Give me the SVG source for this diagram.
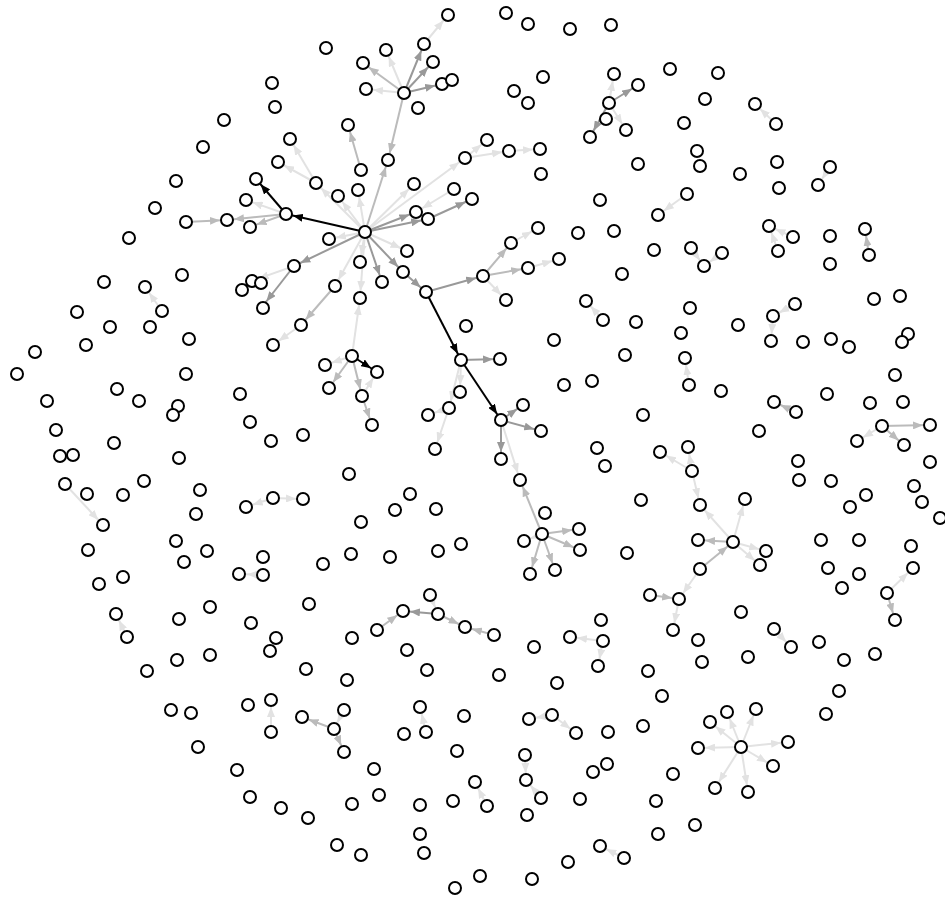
<svg xmlns="http://www.w3.org/2000/svg" width="945" height="899" viewBox="0 0 945 899">
<style>
circle{fill:#fff;stroke:#000;stroke-width:2}
line{stroke-width:2;fill:none}
.e0{stroke:#000;marker-end:url(#a0)}
.e1{stroke:#999;marker-end:url(#a1)}
.e2{stroke:#bbb;marker-end:url(#a2)}
.e3{stroke:#e2e2e2;marker-end:url(#a3)}
</style>
<defs>
<marker id="a0" viewBox="0 0 10 8" refX="17" refY="4" markerWidth="10" markerHeight="8" markerUnits="userSpaceOnUse" orient="auto"><path d="M0,0L10,4L0,8z" fill="#000"/></marker>
<marker id="a1" viewBox="0 0 10 8" refX="17" refY="4" markerWidth="10" markerHeight="8" markerUnits="userSpaceOnUse" orient="auto"><path d="M0,0L10,4L0,8z" fill="#999"/></marker>
<marker id="a2" viewBox="0 0 10 8" refX="17" refY="4" markerWidth="10" markerHeight="8" markerUnits="userSpaceOnUse" orient="auto"><path d="M0,0L10,4L0,8z" fill="#bbb"/></marker>
<marker id="a3" viewBox="0 0 10 8" refX="17" refY="4" markerWidth="10" markerHeight="8" markerUnits="userSpaceOnUse" orient="auto"><path d="M0,0L10,4L0,8z" fill="#e2e2e2"/></marker>
</defs>
<rect width="945" height="899" fill="#fff"/>
<g id="edges">
<line class="e0" x1="365" y1="232" x2="286" y2="214"/>
<line class="e0" x1="286" y1="214" x2="256" y2="179"/>
<line class="e2" x1="286" y1="214" x2="227" y2="220"/>
<line class="e3" x1="286" y1="214" x2="246" y2="200"/>
<line class="e2" x1="286" y1="214" x2="250" y2="227"/>
<line class="e2" x1="186" y1="222" x2="227" y2="220"/>
<line class="e2" x1="361" y1="170" x2="348" y2="125"/>
<line class="e3" x1="365" y1="232" x2="358" y2="190"/>
<line class="e2" x1="365" y1="232" x2="388" y2="160"/>
<line class="e2" x1="404" y1="93" x2="388" y2="160"/>
<line class="e3" x1="365" y1="232" x2="316" y2="183"/>
<line class="e3" x1="316" y1="183" x2="290" y2="139"/>
<line class="e3" x1="316" y1="183" x2="278" y2="162"/>
<line class="e3" x1="365" y1="232" x2="338" y2="196"/>
<line class="e3" x1="365" y1="232" x2="414" y2="184"/>
<line class="e3" x1="365" y1="232" x2="465" y2="158"/>
<line class="e1" x1="365" y1="232" x2="416" y2="212"/>
<line class="e1" x1="365" y1="232" x2="428" y2="219"/>
<line class="e1" x1="428" y1="219" x2="472" y2="199"/>
<line class="e3" x1="454" y1="189" x2="416" y2="212"/>
<line class="e3" x1="365" y1="232" x2="407" y2="251"/>
<line class="e1" x1="365" y1="232" x2="403" y2="272"/>
<line class="e1" x1="403" y1="272" x2="426" y2="292"/>
<line class="e1" x1="365" y1="232" x2="382" y2="282"/>
<line class="e3" x1="365" y1="232" x2="360" y2="262"/>
<line class="e3" x1="365" y1="232" x2="360" y2="298"/>
<line class="e3" x1="365" y1="232" x2="335" y2="286"/>
<line class="e3" x1="365" y1="232" x2="329" y2="239"/>
<line class="e1" x1="365" y1="232" x2="294" y2="266"/>
<line class="e3" x1="294" y1="266" x2="252" y2="281"/>
<line class="e1" x1="294" y1="266" x2="262" y2="307"/>
<line class="e2" x1="335" y1="286" x2="301" y2="325"/>
<line class="e3" x1="301" y1="325" x2="273" y2="345"/>
<line class="e2" x1="404" y1="93" x2="363" y2="63"/>
<line class="e3" x1="404" y1="93" x2="386" y2="50"/>
<line class="e1" x1="404" y1="93" x2="424" y2="44"/>
<line class="e1" x1="404" y1="93" x2="433" y2="62"/>
<line class="e1" x1="404" y1="93" x2="442" y2="84"/>
<line class="e3" x1="404" y1="93" x2="366" y2="89"/>
<line class="e3" x1="424" y1="44" x2="448" y2="15"/>
<line class="e0" x1="426" y1="292" x2="461" y2="360"/>
<line class="e0" x1="461" y1="360" x2="501" y2="420"/>
<line class="e1" x1="426" y1="292" x2="483" y2="276"/>
<line class="e2" x1="483" y1="276" x2="511" y2="243"/>
<line class="e3" x1="511" y1="243" x2="538" y2="228"/>
<line class="e2" x1="483" y1="276" x2="528" y2="268"/>
<line class="e3" x1="528" y1="268" x2="559" y2="259"/>
<line class="e3" x1="483" y1="276" x2="506" y2="300"/>
<line class="e1" x1="461" y1="360" x2="500" y2="359"/>
<line class="e3" x1="461" y1="360" x2="460" y2="392"/>
<line class="e3" x1="461" y1="360" x2="449" y2="408"/>
<line class="e3" x1="449" y1="408" x2="435" y2="449"/>
<line class="e3" x1="449" y1="408" x2="428" y2="415"/>
<line class="e1" x1="501" y1="420" x2="523" y2="405"/>
<line class="e1" x1="501" y1="420" x2="541" y2="431"/>
<line class="e1" x1="501" y1="420" x2="501" y2="459"/>
<line class="e3" x1="501" y1="420" x2="520" y2="480"/>
<line class="e2" x1="542" y1="534" x2="520" y2="480"/>
<line class="e2" x1="542" y1="534" x2="579" y2="529"/>
<line class="e2" x1="542" y1="534" x2="580" y2="550"/>
<line class="e2" x1="542" y1="534" x2="530" y2="574"/>
<line class="e2" x1="542" y1="534" x2="555" y2="570"/>
<line class="e3" x1="542" y1="534" x2="524" y2="541"/>
<line class="e3" x1="352" y1="356" x2="360" y2="298"/>
<line class="e0" x1="352" y1="356" x2="377" y2="372"/>
<line class="e3" x1="352" y1="356" x2="325" y2="365"/>
<line class="e2" x1="352" y1="356" x2="329" y2="388"/>
<line class="e2" x1="352" y1="356" x2="362" y2="396"/>
<line class="e2" x1="362" y1="396" x2="372" y2="425"/>
<line class="e3" x1="362" y1="396" x2="377" y2="372"/>
<line class="e3" x1="465" y1="158" x2="509" y2="151"/>
<line class="e3" x1="509" y1="151" x2="540" y2="149"/>
<line class="e3" x1="465" y1="158" x2="487" y2="140"/>
<line class="e3" x1="609" y1="103" x2="614" y2="74"/>
<line class="e1" x1="609" y1="103" x2="638" y2="85"/>
<line class="e1" x1="609" y1="103" x2="590" y2="137"/>
<line class="e3" x1="609" y1="103" x2="626" y2="130"/>
<line class="e3" x1="687" y1="194" x2="658" y2="215"/>
<line class="e3" x1="691" y1="248" x2="704" y2="266"/>
<line class="e3" x1="722" y1="253" x2="704" y2="266"/>
<line class="e3" x1="776" y1="124" x2="755" y2="104"/>
<line class="e3" x1="830" y1="167" x2="818" y2="185"/>
<line class="e3" x1="793" y1="237" x2="769" y2="226"/>
<line class="e3" x1="778" y1="251" x2="769" y2="226"/>
<line class="e2" x1="869" y1="255" x2="865" y2="229"/>
<line class="e3" x1="162" y1="311" x2="145" y2="287"/>
<line class="e3" x1="65" y1="484" x2="103" y2="525"/>
<line class="e3" x1="603" y1="320" x2="586" y2="301"/>
<line class="e3" x1="689" y1="385" x2="685" y2="358"/>
<line class="e3" x1="692" y1="471" x2="688" y2="447"/>
<line class="e3" x1="692" y1="471" x2="660" y2="452"/>
<line class="e3" x1="692" y1="471" x2="700" y2="505"/>
<line class="e3" x1="700" y1="569" x2="679" y2="599"/>
<line class="e2" x1="650" y1="595" x2="679" y2="599"/>
<line class="e3" x1="679" y1="599" x2="673" y2="630"/>
<line class="e3" x1="795" y1="304" x2="773" y2="316"/>
<line class="e3" x1="773" y1="316" x2="771" y2="341"/>
<line class="e2" x1="796" y1="412" x2="774" y2="402"/>
<line class="e2" x1="882" y1="426" x2="930" y2="425"/>
<line class="e2" x1="882" y1="426" x2="904" y2="445"/>
<line class="e3" x1="882" y1="426" x2="857" y2="441"/>
<line class="e3" x1="733" y1="542" x2="745" y2="499"/>
<line class="e2" x1="733" y1="542" x2="698" y2="540"/>
<line class="e2" x1="700" y1="569" x2="733" y2="542"/>
<line class="e3" x1="733" y1="542" x2="766" y2="551"/>
<line class="e3" x1="733" y1="542" x2="760" y2="565"/>
<line class="e3" x1="733" y1="542" x2="700" y2="505"/>
<line class="e3" x1="887" y1="593" x2="913" y2="568"/>
<line class="e2" x1="887" y1="593" x2="895" y2="620"/>
<line class="e3" x1="273" y1="498" x2="246" y2="507"/>
<line class="e3" x1="273" y1="498" x2="303" y2="499"/>
<line class="e3" x1="263" y1="575" x2="240" y2="574"/>
<line class="e3" x1="127" y1="637" x2="116" y2="614"/>
<line class="e2" x1="377" y1="630" x2="403" y2="611"/>
<line class="e1" x1="438" y1="614" x2="403" y2="611"/>
<line class="e2" x1="438" y1="614" x2="465" y2="627"/>
<line class="e3" x1="430" y1="595" x2="438" y2="614"/>
<line class="e2" x1="494" y1="635" x2="465" y2="627"/>
<line class="e3" x1="271" y1="732" x2="271" y2="700"/>
<line class="e2" x1="334" y1="729" x2="302" y2="717"/>
<line class="e2" x1="334" y1="729" x2="344" y2="752"/>
<line class="e3" x1="344" y1="710" x2="334" y2="729"/>
<line class="e3" x1="426" y1="732" x2="420" y2="707"/>
<line class="e3" x1="603" y1="641" x2="570" y2="637"/>
<line class="e3" x1="603" y1="641" x2="598" y2="666"/>
<line class="e3" x1="552" y1="715" x2="529" y2="719"/>
<line class="e3" x1="552" y1="715" x2="576" y2="733"/>
<line class="e3" x1="525" y1="755" x2="526" y2="780"/>
<line class="e3" x1="541" y1="798" x2="526" y2="780"/>
<line class="e3" x1="487" y1="806" x2="475" y2="782"/>
<line class="e3" x1="624" y1="858" x2="600" y2="846"/>
<line class="e3" x1="774" y1="629" x2="791" y2="647"/>
<line class="e3" x1="741" y1="747" x2="727" y2="712"/>
<line class="e3" x1="741" y1="747" x2="756" y2="709"/>
<line class="e3" x1="741" y1="747" x2="710" y2="722"/>
<line class="e3" x1="741" y1="747" x2="698" y2="748"/>
<line class="e3" x1="741" y1="747" x2="788" y2="742"/>
<line class="e3" x1="741" y1="747" x2="773" y2="766"/>
<line class="e3" x1="741" y1="747" x2="715" y2="788"/>
<line class="e3" x1="741" y1="747" x2="748" y2="792"/>
</g>
<g id="nodes">
<g id="n1"><circle cx="224" cy="120" r="6"/></g>
<g id="n2"><circle cx="203" cy="147" r="6"/></g>
<g id="n3"><circle cx="176" cy="181" r="6"/></g>
<g id="n4"><circle cx="155" cy="208" r="6"/></g>
<g id="n5"><circle cx="186" cy="222" r="6"/></g>
<g id="n6"><circle cx="227" cy="220" r="6"/></g>
<g id="n7"><circle cx="129" cy="238" r="6"/></g>
<g id="n8"><circle cx="104" cy="282" r="6"/></g>
<g id="n9"><circle cx="145" cy="287" r="6"/></g>
<g id="n10"><circle cx="182" cy="275" r="6"/></g>
<g id="n11"><circle cx="242" cy="290" r="6"/></g>
<g id="n12"><circle cx="246" cy="200" r="6"/></g>
<g id="n13"><circle cx="448" cy="15" r="6"/></g>
<g id="n14"><circle cx="326" cy="48" r="6"/></g>
<g id="n15"><circle cx="386" cy="50" r="6"/></g>
<g id="n16"><circle cx="424" cy="44" r="6"/></g>
<g id="n17"><circle cx="363" cy="63" r="6"/></g>
<g id="n18"><circle cx="433" cy="62" r="6"/></g>
<g id="n19"><circle cx="442" cy="84" r="6"/></g>
<g id="n20"><circle cx="452" cy="80" r="6"/></g>
<g id="n21"><circle cx="366" cy="89" r="6"/></g>
<g id="n22"><circle cx="404" cy="93" r="6"/></g>
<g id="n23"><circle cx="418" cy="108" r="6"/></g>
<g id="n24"><circle cx="272" cy="83" r="6"/></g>
<g id="n25"><circle cx="275" cy="107" r="6"/></g>
<g id="n26"><circle cx="348" cy="125" r="6"/></g>
<g id="n27"><circle cx="290" cy="139" r="6"/></g>
<g id="n28"><circle cx="388" cy="160" r="6"/></g>
<g id="n29"><circle cx="278" cy="162" r="6"/></g>
<g id="n30"><circle cx="465" cy="158" r="6"/></g>
<g id="n31"><circle cx="361" cy="170" r="6"/></g>
<g id="n32"><circle cx="256" cy="179" r="6"/></g>
<g id="n33"><circle cx="316" cy="183" r="6"/></g>
<g id="n34"><circle cx="414" cy="184" r="6"/></g>
<g id="n35"><circle cx="358" cy="190" r="6"/></g>
<g id="n36"><circle cx="338" cy="196" r="6"/></g>
<g id="n37"><circle cx="454" cy="189" r="6"/></g>
<g id="n38"><circle cx="472" cy="199" r="6"/></g>
<g id="n39"><circle cx="286" cy="214" r="6"/></g>
<g id="n40"><circle cx="416" cy="212" r="6"/></g>
<g id="n41"><circle cx="428" cy="219" r="6"/></g>
<g id="n42"><circle cx="250" cy="227" r="6"/></g>
<g id="n43"><circle cx="365" cy="232" r="6"/></g>
<g id="n44"><circle cx="329" cy="239" r="6"/></g>
<g id="n45"><circle cx="407" cy="251" r="6"/></g>
<g id="n46"><circle cx="294" cy="266" r="6"/></g>
<g id="n47"><circle cx="360" cy="262" r="6"/></g>
<g id="n48"><circle cx="403" cy="272" r="6"/></g>
<g id="n49"><circle cx="382" cy="282" r="6"/></g>
<g id="n50"><circle cx="252" cy="281" r="6"/></g>
<g id="n51"><circle cx="261" cy="283" r="6"/></g>
<g id="n52"><circle cx="335" cy="286" r="6"/></g>
<g id="n53"><circle cx="360" cy="298" r="6"/></g>
<g id="n54"><circle cx="426" cy="292" r="6"/></g>
<g id="n55"><circle cx="506" cy="13" r="6"/></g>
<g id="n56"><circle cx="528" cy="24" r="6"/></g>
<g id="n57"><circle cx="570" cy="29" r="6"/></g>
<g id="n58"><circle cx="611" cy="25" r="6"/></g>
<g id="n59"><circle cx="543" cy="77" r="6"/></g>
<g id="n60"><circle cx="614" cy="74" r="6"/></g>
<g id="n61"><circle cx="638" cy="85" r="6"/></g>
<g id="n62"><circle cx="670" cy="69" r="6"/></g>
<g id="n63"><circle cx="705" cy="99" r="6"/></g>
<g id="n64"><circle cx="514" cy="91" r="6"/></g>
<g id="n65"><circle cx="528" cy="103" r="6"/></g>
<g id="n66"><circle cx="609" cy="103" r="6"/></g>
<g id="n67"><circle cx="606" cy="119" r="6"/></g>
<g id="n68"><circle cx="626" cy="130" r="6"/></g>
<g id="n69"><circle cx="590" cy="137" r="6"/></g>
<g id="n70"><circle cx="684" cy="123" r="6"/></g>
<g id="n71"><circle cx="697" cy="151" r="6"/></g>
<g id="n72"><circle cx="700" cy="166" r="6"/></g>
<g id="n73"><circle cx="487" cy="140" r="6"/></g>
<g id="n74"><circle cx="509" cy="151" r="6"/></g>
<g id="n75"><circle cx="540" cy="149" r="6"/></g>
<g id="n76"><circle cx="541" cy="174" r="6"/></g>
<g id="n77"><circle cx="638" cy="164" r="6"/></g>
<g id="n78"><circle cx="600" cy="200" r="6"/></g>
<g id="n79"><circle cx="687" cy="194" r="6"/></g>
<g id="n80"><circle cx="658" cy="215" r="6"/></g>
<g id="n81"><circle cx="538" cy="228" r="6"/></g>
<g id="n82"><circle cx="578" cy="233" r="6"/></g>
<g id="n83"><circle cx="614" cy="231" r="6"/></g>
<g id="n84"><circle cx="511" cy="243" r="6"/></g>
<g id="n85"><circle cx="654" cy="250" r="6"/></g>
<g id="n86"><circle cx="691" cy="248" r="6"/></g>
<g id="n87"><circle cx="704" cy="266" r="6"/></g>
<g id="n88"><circle cx="559" cy="259" r="6"/></g>
<g id="n89"><circle cx="528" cy="268" r="6"/></g>
<g id="n90"><circle cx="622" cy="274" r="6"/></g>
<g id="n91"><circle cx="483" cy="276" r="6"/></g>
<g id="n92"><circle cx="506" cy="300" r="6"/></g>
<g id="n93"><circle cx="586" cy="301" r="6"/></g>
<g id="n94"><circle cx="718" cy="73" r="6"/></g>
<g id="n95"><circle cx="755" cy="104" r="6"/></g>
<g id="n96"><circle cx="776" cy="124" r="6"/></g>
<g id="n97"><circle cx="777" cy="162" r="6"/></g>
<g id="n98"><circle cx="740" cy="174" r="6"/></g>
<g id="n99"><circle cx="779" cy="188" r="6"/></g>
<g id="n100"><circle cx="830" cy="167" r="6"/></g>
<g id="n101"><circle cx="818" cy="185" r="6"/></g>
<g id="n102"><circle cx="769" cy="226" r="6"/></g>
<g id="n103"><circle cx="793" cy="237" r="6"/></g>
<g id="n104"><circle cx="778" cy="251" r="6"/></g>
<g id="n105"><circle cx="830" cy="236" r="6"/></g>
<g id="n106"><circle cx="830" cy="264" r="6"/></g>
<g id="n107"><circle cx="865" cy="229" r="6"/></g>
<g id="n108"><circle cx="869" cy="255" r="6"/></g>
<g id="n109"><circle cx="722" cy="253" r="6"/></g>
<g id="n110"><circle cx="874" cy="299" r="6"/></g>
<g id="n111"><circle cx="900" cy="296" r="6"/></g>
<g id="n112"><circle cx="162" cy="311" r="6"/></g>
<g id="n113"><circle cx="77" cy="312" r="6"/></g>
<g id="n114"><circle cx="110" cy="327" r="6"/></g>
<g id="n115"><circle cx="150" cy="327" r="6"/></g>
<g id="n116"><circle cx="86" cy="345" r="6"/></g>
<g id="n117"><circle cx="189" cy="339" r="6"/></g>
<g id="n118"><circle cx="35" cy="352" r="6"/></g>
<g id="n119"><circle cx="17" cy="374" r="6"/></g>
<g id="n120"><circle cx="186" cy="374" r="6"/></g>
<g id="n121"><circle cx="47" cy="401" r="6"/></g>
<g id="n122"><circle cx="117" cy="389" r="6"/></g>
<g id="n123"><circle cx="139" cy="401" r="6"/></g>
<g id="n124"><circle cx="178" cy="406" r="6"/></g>
<g id="n125"><circle cx="173" cy="415" r="6"/></g>
<g id="n126"><circle cx="56" cy="430" r="6"/></g>
<g id="n127"><circle cx="114" cy="443" r="6"/></g>
<g id="n128"><circle cx="60" cy="456" r="6"/></g>
<g id="n129"><circle cx="73" cy="455" r="6"/></g>
<g id="n130"><circle cx="179" cy="458" r="6"/></g>
<g id="n131"><circle cx="65" cy="484" r="6"/></g>
<g id="n132"><circle cx="87" cy="494" r="6"/></g>
<g id="n133"><circle cx="123" cy="495" r="6"/></g>
<g id="n134"><circle cx="144" cy="481" r="6"/></g>
<g id="n135"><circle cx="200" cy="490" r="6"/></g>
<g id="n136"><circle cx="196" cy="514" r="6"/></g>
<g id="n137"><circle cx="103" cy="525" r="6"/></g>
<g id="n138"><circle cx="176" cy="541" r="6"/></g>
<g id="n139"><circle cx="207" cy="551" r="6"/></g>
<g id="n140"><circle cx="184" cy="562" r="6"/></g>
<g id="n141"><circle cx="88" cy="550" r="6"/></g>
<g id="n142"><circle cx="99" cy="584" r="6"/></g>
<g id="n143"><circle cx="123" cy="577" r="6"/></g>
<g id="n144"><circle cx="240" cy="394" r="6"/></g>
<g id="n145"><circle cx="246" cy="507" r="6"/></g>
<g id="n146"><circle cx="239" cy="574" r="6"/></g>
<g id="n147"><circle cx="263" cy="308" r="6"/></g>
<g id="n148"><circle cx="301" cy="325" r="6"/></g>
<g id="n149"><circle cx="273" cy="345" r="6"/></g>
<g id="n151"><circle cx="352" cy="356" r="6"/></g>
<g id="n152"><circle cx="325" cy="365" r="6"/></g>
<g id="n153"><circle cx="377" cy="372" r="6"/></g>
<g id="n154"><circle cx="329" cy="388" r="6"/></g>
<g id="n155"><circle cx="362" cy="396" r="6"/></g>
<g id="n156"><circle cx="372" cy="425" r="6"/></g>
<g id="n157"><circle cx="250" cy="422" r="6"/></g>
<g id="n158"><circle cx="271" cy="441" r="6"/></g>
<g id="n159"><circle cx="303" cy="435" r="6"/></g>
<g id="n160"><circle cx="466" cy="326" r="6"/></g>
<g id="n161"><circle cx="461" cy="360" r="6"/></g>
<g id="n162"><circle cx="460" cy="392" r="6"/></g>
<g id="n163"><circle cx="449" cy="408" r="6"/></g>
<g id="n164"><circle cx="428" cy="415" r="6"/></g>
<g id="n165"><circle cx="435" cy="449" r="6"/></g>
<g id="n166"><circle cx="349" cy="474" r="6"/></g>
<g id="n167"><circle cx="273" cy="498" r="6"/></g>
<g id="n168"><circle cx="303" cy="499" r="6"/></g>
<g id="n169"><circle cx="410" cy="494" r="6"/></g>
<g id="n170"><circle cx="395" cy="510" r="6"/></g>
<g id="n171"><circle cx="436" cy="509" r="6"/></g>
<g id="n172"><circle cx="361" cy="522" r="6"/></g>
<g id="n173"><circle cx="461" cy="544" r="6"/></g>
<g id="n174"><circle cx="438" cy="551" r="6"/></g>
<g id="n175"><circle cx="390" cy="557" r="6"/></g>
<g id="n176"><circle cx="351" cy="554" r="6"/></g>
<g id="n177"><circle cx="323" cy="564" r="6"/></g>
<g id="n178"><circle cx="263" cy="557" r="6"/></g>
<g id="n179"><circle cx="263" cy="575" r="6"/></g>
<g id="n180"><circle cx="430" cy="595" r="6"/></g>
<g id="n181"><circle cx="309" cy="604" r="6"/></g>
<g id="n182"><circle cx="603" cy="320" r="6"/></g>
<g id="n183"><circle cx="636" cy="322" r="6"/></g>
<g id="n184"><circle cx="690" cy="308" r="6"/></g>
<g id="n185"><circle cx="681" cy="333" r="6"/></g>
<g id="n186"><circle cx="685" cy="358" r="6"/></g>
<g id="n187"><circle cx="689" cy="385" r="6"/></g>
<g id="n188"><circle cx="554" cy="340" r="6"/></g>
<g id="n189"><circle cx="500" cy="359" r="6"/></g>
<g id="n190"><circle cx="625" cy="355" r="6"/></g>
<g id="n191"><circle cx="564" cy="385" r="6"/></g>
<g id="n192"><circle cx="592" cy="381" r="6"/></g>
<g id="n193"><circle cx="523" cy="405" r="6"/></g>
<g id="n194"><circle cx="501" cy="420" r="6"/></g>
<g id="n195"><circle cx="541" cy="431" r="6"/></g>
<g id="n196"><circle cx="643" cy="415" r="6"/></g>
<g id="n197"><circle cx="501" cy="459" r="6"/></g>
<g id="n198"><circle cx="597" cy="448" r="6"/></g>
<g id="n199"><circle cx="605" cy="466" r="6"/></g>
<g id="n200"><circle cx="660" cy="452" r="6"/></g>
<g id="n201"><circle cx="688" cy="447" r="6"/></g>
<g id="n202"><circle cx="692" cy="471" r="6"/></g>
<g id="n203"><circle cx="520" cy="480" r="6"/></g>
<g id="n204"><circle cx="641" cy="500" r="6"/></g>
<g id="n205"><circle cx="700" cy="505" r="6"/></g>
<g id="n206"><circle cx="545" cy="513" r="6"/></g>
<g id="n207"><circle cx="542" cy="534" r="6"/></g>
<g id="n208"><circle cx="579" cy="529" r="6"/></g>
<g id="n209"><circle cx="524" cy="541" r="6"/></g>
<g id="n210"><circle cx="580" cy="550" r="6"/></g>
<g id="n211"><circle cx="627" cy="553" r="6"/></g>
<g id="n212"><circle cx="698" cy="540" r="6"/></g>
<g id="n213"><circle cx="530" cy="574" r="6"/></g>
<g id="n214"><circle cx="555" cy="570" r="6"/></g>
<g id="n215"><circle cx="700" cy="569" r="6"/></g>
<g id="n216"><circle cx="650" cy="595" r="6"/></g>
<g id="n217"><circle cx="679" cy="599" r="6"/></g>
<g id="n218"><circle cx="795" cy="304" r="6"/></g>
<g id="n219"><circle cx="773" cy="316" r="6"/></g>
<g id="n220"><circle cx="738" cy="325" r="6"/></g>
<g id="n221"><circle cx="771" cy="341" r="6"/></g>
<g id="n222"><circle cx="803" cy="342" r="6"/></g>
<g id="n223"><circle cx="831" cy="339" r="6"/></g>
<g id="n224"><circle cx="849" cy="347" r="6"/></g>
<g id="n225"><circle cx="908" cy="334" r="6"/></g>
<g id="n226"><circle cx="902" cy="342" r="6"/></g>
<g id="n227"><circle cx="895" cy="375" r="6"/></g>
<g id="n228"><circle cx="721" cy="391" r="6"/></g>
<g id="n229"><circle cx="827" cy="394" r="6"/></g>
<g id="n230"><circle cx="870" cy="403" r="6"/></g>
<g id="n231"><circle cx="903" cy="402" r="6"/></g>
<g id="n232"><circle cx="774" cy="402" r="6"/></g>
<g id="n233"><circle cx="796" cy="412" r="6"/></g>
<g id="n234"><circle cx="759" cy="431" r="6"/></g>
<g id="n235"><circle cx="882" cy="426" r="6"/></g>
<g id="n236"><circle cx="930" cy="425" r="6"/></g>
<g id="n237"><circle cx="857" cy="441" r="6"/></g>
<g id="n238"><circle cx="904" cy="445" r="6"/></g>
<g id="n239"><circle cx="798" cy="461" r="6"/></g>
<g id="n240"><circle cx="930" cy="462" r="6"/></g>
<g id="n241"><circle cx="799" cy="480" r="6"/></g>
<g id="n242"><circle cx="831" cy="481" r="6"/></g>
<g id="n243"><circle cx="914" cy="486" r="6"/></g>
<g id="n244"><circle cx="866" cy="495" r="6"/></g>
<g id="n245"><circle cx="850" cy="507" r="6"/></g>
<g id="n246"><circle cx="922" cy="502" r="6"/></g>
<g id="n247"><circle cx="940" cy="518" r="6"/></g>
<g id="n248"><circle cx="745" cy="499" r="6"/></g>
<g id="n249"><circle cx="733" cy="542" r="6"/></g>
<g id="n250"><circle cx="766" cy="551" r="6"/></g>
<g id="n251"><circle cx="760" cy="565" r="6"/></g>
<g id="n252"><circle cx="821" cy="540" r="6"/></g>
<g id="n253"><circle cx="859" cy="540" r="6"/></g>
<g id="n254"><circle cx="828" cy="568" r="6"/></g>
<g id="n255"><circle cx="859" cy="574" r="6"/></g>
<g id="n256"><circle cx="842" cy="588" r="6"/></g>
<g id="n257"><circle cx="887" cy="593" r="6"/></g>
<g id="n258"><circle cx="911" cy="546" r="6"/></g>
<g id="n259"><circle cx="913" cy="568" r="6"/></g>
<g id="n260"><circle cx="116" cy="614" r="6"/></g>
<g id="n261"><circle cx="127" cy="637" r="6"/></g>
<g id="n262"><circle cx="179" cy="619" r="6"/></g>
<g id="n263"><circle cx="210" cy="607" r="6"/></g>
<g id="n264"><circle cx="177" cy="660" r="6"/></g>
<g id="n265"><circle cx="210" cy="655" r="6"/></g>
<g id="n266"><circle cx="147" cy="671" r="6"/></g>
<g id="n267"><circle cx="171" cy="710" r="6"/></g>
<g id="n268"><circle cx="191" cy="713" r="6"/></g>
<g id="n269"><circle cx="198" cy="747" r="6"/></g>
<g id="n270"><circle cx="237" cy="770" r="6"/></g>
<g id="n271"><circle cx="251" cy="623" r="6"/></g>
<g id="n272"><circle cx="276" cy="638" r="6"/></g>
<g id="n273"><circle cx="270" cy="651" r="6"/></g>
<g id="n274"><circle cx="352" cy="638" r="6"/></g>
<g id="n275"><circle cx="377" cy="630" r="6"/></g>
<g id="n276"><circle cx="403" cy="611" r="6"/></g>
<g id="n277"><circle cx="438" cy="614" r="6"/></g>
<g id="n278"><circle cx="465" cy="627" r="6"/></g>
<g id="n279"><circle cx="407" cy="650" r="6"/></g>
<g id="n280"><circle cx="427" cy="670" r="6"/></g>
<g id="n281"><circle cx="306" cy="669" r="6"/></g>
<g id="n282"><circle cx="347" cy="680" r="6"/></g>
<g id="n283"><circle cx="248" cy="705" r="6"/></g>
<g id="n284"><circle cx="271" cy="700" r="6"/></g>
<g id="n285"><circle cx="271" cy="732" r="6"/></g>
<g id="n286"><circle cx="302" cy="717" r="6"/></g>
<g id="n287"><circle cx="344" cy="710" r="6"/></g>
<g id="n288"><circle cx="334" cy="729" r="6"/></g>
<g id="n289"><circle cx="344" cy="752" r="6"/></g>
<g id="n290"><circle cx="420" cy="707" r="6"/></g>
<g id="n291"><circle cx="404" cy="734" r="6"/></g>
<g id="n292"><circle cx="426" cy="732" r="6"/></g>
<g id="n293"><circle cx="464" cy="716" r="6"/></g>
<g id="n294"><circle cx="457" cy="751" r="6"/></g>
<g id="n295"><circle cx="374" cy="769" r="6"/></g>
<g id="n296"><circle cx="250" cy="797" r="6"/></g>
<g id="n297"><circle cx="281" cy="808" r="6"/></g>
<g id="n298"><circle cx="308" cy="818" r="6"/></g>
<g id="n299"><circle cx="352" cy="804" r="6"/></g>
<g id="n300"><circle cx="379" cy="795" r="6"/></g>
<g id="n301"><circle cx="420" cy="805" r="6"/></g>
<g id="n302"><circle cx="453" cy="801" r="6"/></g>
<g id="n303"><circle cx="420" cy="834" r="6"/></g>
<g id="n304"><circle cx="424" cy="853" r="6"/></g>
<g id="n305"><circle cx="337" cy="845" r="6"/></g>
<g id="n306"><circle cx="361" cy="855" r="6"/></g>
<g id="n307"><circle cx="455" cy="888" r="6"/></g>
<g id="n308"><circle cx="480" cy="876" r="6"/></g>
<g id="n309"><circle cx="673" cy="630" r="6"/></g>
<g id="n310"><circle cx="698" cy="640" r="6"/></g>
<g id="n311"><circle cx="702" cy="662" r="6"/></g>
<g id="n312"><circle cx="601" cy="620" r="6"/></g>
<g id="n313"><circle cx="603" cy="641" r="6"/></g>
<g id="n314"><circle cx="570" cy="637" r="6"/></g>
<g id="n315"><circle cx="598" cy="666" r="6"/></g>
<g id="n316"><circle cx="494" cy="635" r="6"/></g>
<g id="n317"><circle cx="534" cy="647" r="6"/></g>
<g id="n318"><circle cx="499" cy="675" r="6"/></g>
<g id="n319"><circle cx="557" cy="683" r="6"/></g>
<g id="n320"><circle cx="648" cy="671" r="6"/></g>
<g id="n321"><circle cx="662" cy="696" r="6"/></g>
<g id="n322"><circle cx="529" cy="719" r="6"/></g>
<g id="n323"><circle cx="552" cy="715" r="6"/></g>
<g id="n324"><circle cx="576" cy="733" r="6"/></g>
<g id="n325"><circle cx="608" cy="732" r="6"/></g>
<g id="n326"><circle cx="643" cy="726" r="6"/></g>
<g id="n327"><circle cx="698" cy="748" r="6"/></g>
<g id="n328"><circle cx="525" cy="755" r="6"/></g>
<g id="n329"><circle cx="526" cy="780" r="6"/></g>
<g id="n330"><circle cx="541" cy="798" r="6"/></g>
<g id="n331"><circle cx="475" cy="782" r="6"/></g>
<g id="n332"><circle cx="487" cy="806" r="6"/></g>
<g id="n333"><circle cx="593" cy="772" r="6"/></g>
<g id="n334"><circle cx="607" cy="764" r="6"/></g>
<g id="n335"><circle cx="580" cy="799" r="6"/></g>
<g id="n336"><circle cx="656" cy="801" r="6"/></g>
<g id="n337"><circle cx="673" cy="774" r="6"/></g>
<g id="n338"><circle cx="695" cy="825" r="6"/></g>
<g id="n339"><circle cx="658" cy="834" r="6"/></g>
<g id="n340"><circle cx="527" cy="815" r="6"/></g>
<g id="n341"><circle cx="600" cy="846" r="6"/></g>
<g id="n342"><circle cx="624" cy="858" r="6"/></g>
<g id="n343"><circle cx="568" cy="862" r="6"/></g>
<g id="n344"><circle cx="532" cy="879" r="6"/></g>
<g id="n345"><circle cx="895" cy="620" r="6"/></g>
<g id="n346"><circle cx="741" cy="612" r="6"/></g>
<g id="n347"><circle cx="774" cy="629" r="6"/></g>
<g id="n348"><circle cx="791" cy="647" r="6"/></g>
<g id="n349"><circle cx="819" cy="642" r="6"/></g>
<g id="n350"><circle cx="844" cy="660" r="6"/></g>
<g id="n351"><circle cx="875" cy="654" r="6"/></g>
<g id="n352"><circle cx="748" cy="657" r="6"/></g>
<g id="n353"><circle cx="839" cy="691" r="6"/></g>
<g id="n354"><circle cx="826" cy="714" r="6"/></g>
<g id="n355"><circle cx="727" cy="712" r="6"/></g>
<g id="n356"><circle cx="756" cy="709" r="6"/></g>
<g id="n357"><circle cx="710" cy="722" r="6"/></g>
<g id="n358"><circle cx="741" cy="747" r="6"/></g>
<g id="n359"><circle cx="788" cy="742" r="6"/></g>
<g id="n360"><circle cx="773" cy="766" r="6"/></g>
<g id="n361"><circle cx="715" cy="788" r="6"/></g>
<g id="n362"><circle cx="748" cy="792" r="6"/></g>
</g>
</svg>
